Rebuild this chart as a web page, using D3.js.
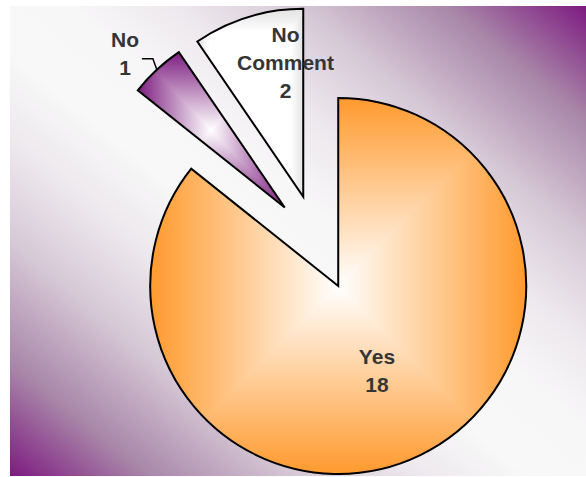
<!DOCTYPE html>
<html>
<head>
<meta charset="utf-8">
<script src="https://cdn.jsdelivr.net/npm/d3@7"></script>
<style>
  html, body { margin: 0; padding: 0; background: #ffffff; }
  svg { display: block; }
</style>
</head>
<body>
<svg id="chart" width="586" height="477"></svg>
<script>
// ---- Data ----
const categories = ["Yes", "No", "No Comment"];
const values = [18, 1, 2];
const labelLines = [["Yes", "18"], ["No", "1"], ["No", "Comment", "2"]];

// ---- Styling / layout ----
const edgeColors = ["#ff9a2e", "#7e1e80", "#e2e2e2"];
const centerColors = ["#ffffff", "#ffffff", "#ffffff"];
const plateau = [0.0, 0.0, 0.38];
const labelPlacement = [
  { r: 0.495, dAngle: 1.1 },
  { r: 1.18, dAngle: -3.2 },
  { r: 0.72, dAngle: 9.6 }
];
const W = 586, H = 477;
const cx = 317.4, cy = 242.7, R = 188, EXPLODE = 48;
const fontSize = 21, lineGap = 27.7, capHalf = 7.5;

const svg = d3.select("#chart");
const defs = svg.append("defs");

// background plot area gradient
const bg = defs.append("linearGradient").attr("id", "bgGrad")
  .attr("x1", 1).attr("y1", 0).attr("x2", 0).attr("y2", 1);
[[0, "#7d1a80"], [0.12, "#a886a8"], [0.25, "#d6c8d6"], [0.35, "#ece7ec"], [0.45, "#f8f7f8"],
 [0.55, "#f8f8f8"], [0.65, "#ece7ec"], [0.75, "#d6c8d6"], [0.88, "#a886a8"], [1, "#7d1a80"]]
  .forEach(([o, c]) => bg.append("stop").attr("offset", o).attr("stop-color", c));

svg.append("rect").attr("x", 10).attr("y", 6).attr("width", 576).attr("height", 470)
  .attr("fill", "url(#bgGrad)");

const pie = d3.pie().sort(null).value(d => d)(values);
const arc = d3.arc().innerRadius(0).outerRadius(R);

const polar = (a, r) => [Math.sin(a) * r, -Math.cos(a) * r];

const g = svg.append("g").attr("transform", `translate(${cx},${cy})`);

pie.forEach((p, i) => {
  const mid = (p.startAngle + p.endAngle) / 2;
  const [ox, oy] = polar(mid, EXPLODE);
  // bbox of slice (in slice-local coordinates)
  const pts = [[0, 0]];
  const n = 60;
  for (let k = 0; k <= n; k++) {
    const a = p.startAngle + (p.endAngle - p.startAngle) * k / n;
    pts.push(polar(a, R));
  }
  const x0 = d3.min(pts, d => d[0]), x1 = d3.max(pts, d => d[0]);
  const y0 = d3.min(pts, d => d[1]), y1 = d3.max(pts, d => d[1]);

  const hId = `h${i}`, vId = `v${i}`, cId = `c${i}`;
  const hg = defs.append("linearGradient").attr("id", hId).attr("gradientUnits", "userSpaceOnUse")
    .attr("x1", x0).attr("y1", 0).attr("x2", x1).attr("y2", 0);
  const vg = defs.append("linearGradient").attr("id", vId).attr("gradientUnits", "userSpaceOnUse")
    .attr("x1", 0).attr("y1", y0).attr("x2", 0).attr("y2", y1);
  [hg, vg].forEach(gr => {
    gr.append("stop").attr("offset", 0).attr("stop-color", edgeColors[i]);
    gr.append("stop").attr("offset", 0.5 - plateau[i]).attr("stop-color", centerColors[i]);
    gr.append("stop").attr("offset", 0.5 + plateau[i]).attr("stop-color", centerColors[i]);
    gr.append("stop").attr("offset", 1).attr("stop-color", edgeColors[i]);
  });
  defs.append("clipPath").attr("id", cId).append("path").attr("d", arc(p));

  const sg = g.append("g").attr("transform", `translate(${ox},${oy})`);
  const fillG = sg.append("g").attr("clip-path", `url(#${cId})`).style("isolation", "isolate");
  fillG.append("rect").attr("x", x0 - 2).attr("y", y0 - 2).attr("width", x1 - x0 + 4).attr("height", y1 - y0 + 4)
    .attr("fill", `url(#${hId})`);
  fillG.append("rect").attr("x", x0 - 2).attr("y", y0 - 2).attr("width", x1 - x0 + 4).attr("height", y1 - y0 + 4)
    .attr("fill", `url(#${vId})`).style("mix-blend-mode", "darken");
  sg.append("path").attr("d", arc(p)).attr("fill", "none")
    .attr("stroke", "#000").attr("stroke-width", 2).attr("stroke-linejoin", "miter");

  // label
  const lp = labelPlacement[i];
  const [lx, ly] = polar(mid + lp.dAngle * Math.PI / 180, lp.r * R);
  const lines = labelLines[i];
  const t = sg.append("text").attr("text-anchor", "middle")
    .attr("font-family", "'Liberation Sans', Arial, sans-serif").attr("font-weight", "bold")
    .attr("font-size", fontSize).attr("fill", "#353535");
  lines.forEach((ln, k) => {
    t.append("tspan").attr("x", lx).attr("y", ly + (k - (lines.length - 1) / 2) * lineGap + capHalf).text(ln);
  });

  // leader line for outside label
  if (lp.r > 1) {
    const [ax, ay] = polar(mid, R);
    sg.append("path")
      .attr("d", d3.line()([[ax, ay], [ax - 4, ay - 11], [ax - 15, ay - 11]]))
      .attr("fill", "none").attr("stroke", "#000").attr("stroke-width", 1.5);
  }
});
</script>
</body>
</html>
